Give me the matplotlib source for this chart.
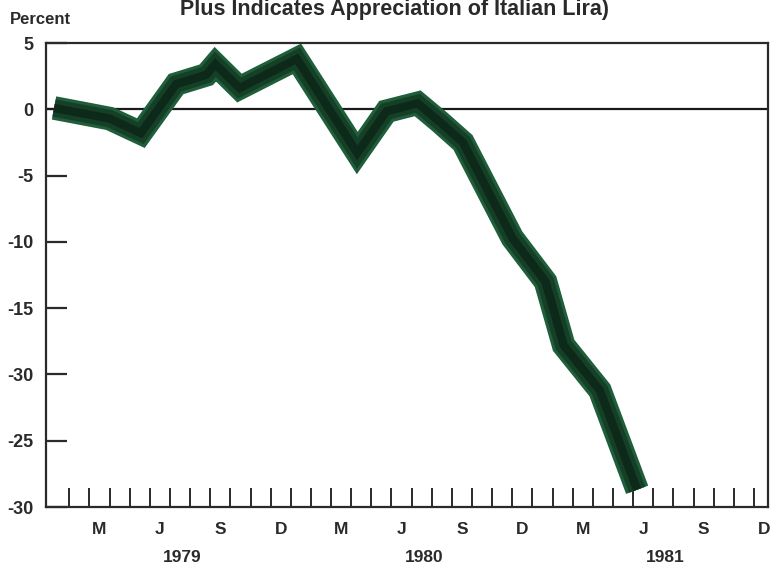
import matplotlib
matplotlib.use("Agg")
import matplotlib.pyplot as plt
import matplotlib.transforms as mtransforms

# months since 1 Jan 1979
months = [0.24, 3.0, 4.55, 6.3, 7.8, 8.25, 9.45, 12.3, 15.3, 16.75,
          18.3, 19.4, 20.55, 23.0, 24.65, 25.55, 27.35, 29.2]
pct = [0.1, -0.7, -1.8, 1.9, 2.6, 3.4, 1.6, 3.8, -3.3, -0.15,
       0.45, -0.95, -2.5, -9.7, -13.0, -17.8, -21.2, -28.7]

y_ticks = [5, 0, -5, -10, -15, -20, -25, -30]
# labels as printed on the original (the -20 level reads "-30")
y_labels = ["5", "0", "-5", "-10", "-15", "-30", "-25", "-30"]
month_letters = ["M", "J", "S", "D"] * 3
years = ["1979", "1980", "1981"]

title = "Plus Indicates Appreciation of Italian Lira)"

plt.rcParams["font.family"] = ["Liberation Sans", "DejaVu Sans"]
plt.rcParams["font.weight"] = "bold"
txt_color = "#2a2a2a"

fig = plt.figure(figsize=(7.73, 5.68), dpi=100)
ax = fig.add_axes([46 / 773, 1 - 507 / 568, 722 / 773, 464 / 568])

# thick green band with darker core
ax.plot(months, pct, color="#1f5e3b", lw=17, solid_joinstyle="miter",
        solid_capstyle="butt", zorder=3)
ax.plot(months, pct, color="#163f28", lw=12.5, solid_joinstyle="miter",
        solid_capstyle="butt", zorder=4)
ax.plot(months, pct, color="#0b2416", lw=6, solid_joinstyle="miter",
        solid_capstyle="butt", alpha=0.8, zorder=5)

ax.axhline(0, color="#1a1a1a", lw=1.6, zorder=2)

ax.set_xlim(-0.16, 35.7)
ax.set_ylim(-30, 5)

for s in ax.spines.values():
    s.set_color("#2a2a2a")
    s.set_linewidth(1.6)

# month boundary ticks, pointing up into the plot
ax.set_xticks(range(1, 36))
ax.set_xticklabels([])
ax.tick_params(axis="x", which="major", direction="in", length=14,
               width=1.4, color="#2a2a2a")

# quarter letters centred in their month
ax.set_xticks([2.5 + 3 * i for i in range(len(month_letters))], minor=True)
ax.set_xticklabels(month_letters, minor=True)
ax.tick_params(axis="x", which="minor", length=0, pad=11,
               labelsize=12.5, labelcolor=txt_color)

ax.set_yticks(y_ticks)
ax.set_yticklabels(y_labels)
ax.tick_params(axis="y", direction="in", length=15, width=1.6,
               color="#2a2a2a", pad=9, labelsize=13, labelcolor=txt_color)

trans = mtransforms.blended_transform_factory(ax.transData, fig.transFigure)
for i, yr in enumerate(years):
    ax.text(12 * i + 6.6, 1 - 557 / 568, yr, transform=trans, ha="center",
            va="center", fontsize=12.5, color=txt_color)

fig.text(10 / 773, 1 - 19 / 568, "Percent", ha="left", va="center",
         fontsize=12, color=txt_color)
fig.text(395 / 773, 1 - 15 / 568, title, ha="center", va="baseline",
         fontsize=15.5, color=txt_color)

fig.savefig("out.png", dpi=100)
